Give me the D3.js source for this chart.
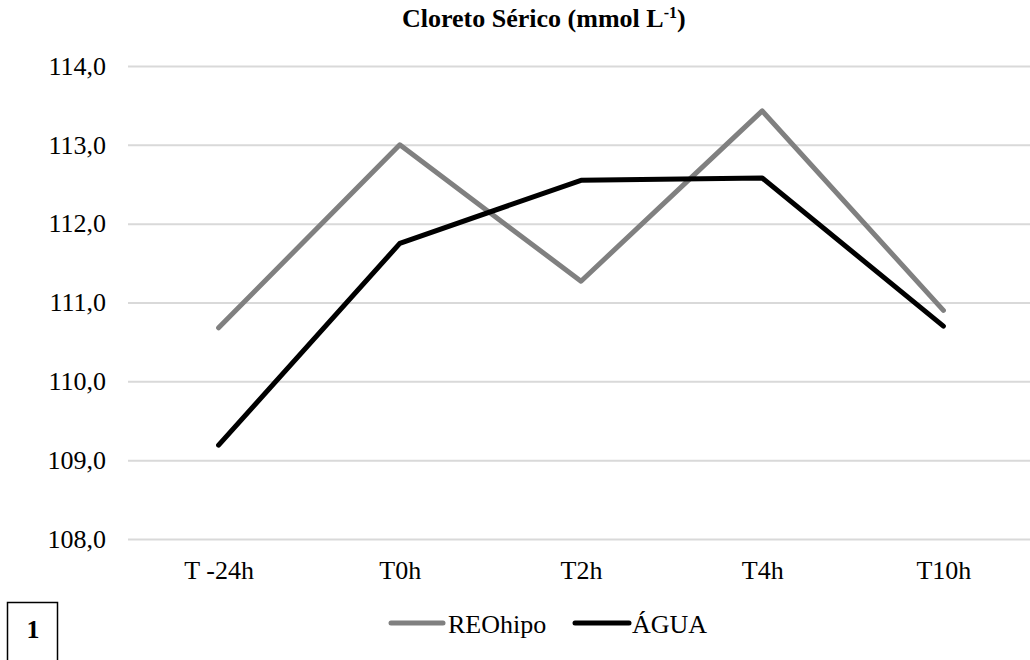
<!DOCTYPE html>
<html>
<head>
<meta charset="utf-8">
<script src="https://cdn.jsdelivr.net/npm/d3@7"></script>
</head>
<body style="margin:0">
<svg id="chart" width="1030" height="660" font-family="Times New Roman"></svg>
<script>
// Serum chloride over time, two treatment groups
const categories = ["T -24h", "T0h", "T2h", "T4h", "T10h"];
const reoHipo = [110.68, 113.0, 111.27, 113.43, 110.9];
const agua = [109.19, 111.75, 112.55, 112.58, 110.7];
const yTicks = [108, 109, 110, 111, 112, 113, 114];
const seriesNames = ["REOhipo", "ÁGUA"];

const FONT = "Times New Roman";

const series = [
  { name: seriesNames[0], values: reoHipo, color: "#808080" },
  { name: seriesNames[1], values: agua, color: "#000000" }
];

const svg = d3.select("#chart");
const plot = { left: 128, right: 1034, top: 66, bottom: 539 };

const x = d3.scalePoint().domain(categories).range([plot.left, plot.right]).padding(0.5);
const y = d3.scaleLinear().domain([108, 114]).range([plot.bottom, plot.top]);

const locale = d3.formatLocale({ decimal: ",", thousands: ".", grouping: [3], currency: ["", ""] });
const fmt = locale.format(".1f");

// Title
const title = svg.append("text")
  .attr("x", 402).attr("y", 27)
  .style("font-family", FONT)
  .style("font-size", "26px").style("font-weight", "bold").attr("fill", "#000");
title.append("tspan").text("Cloreto Sérico (mmol L");
title.append("tspan").style("font-size", "16px").attr("dy", -9).text("-1");
title.append("tspan").attr("dy", 9).text(")");

// Horizontal gridlines + y labels
const yAxis = svg.append("g")
  .attr("transform", `translate(${plot.left},0)`)
  .call(d3.axisLeft(y).tickValues(yTicks).tickFormat(fmt).tickSize(-(plot.right - plot.left)).tickPadding(22))
  .attr("font-family", null).attr("font-size", null);
yAxis.select(".domain").remove();
yAxis.selectAll(".tick line").attr("stroke", "#d9d9d9").attr("stroke-width", 2);
yAxis.selectAll(".tick text")
  .style("font-family", FONT).style("font-size", "26px").attr("fill", "#000");

// Category labels
const xAxis = svg.append("g")
  .attr("transform", `translate(0,${plot.bottom})`)
  .call(d3.axisBottom(x).tickSize(0).tickPadding(22))
  .attr("font-family", null).attr("font-size", null);
xAxis.select(".domain").remove();
xAxis.selectAll(".tick text")
  .style("font-family", FONT).style("font-size", "26px").attr("fill", "#000");

// Series lines
const line = d3.line()
  .x((d, i) => x(categories[i]))
  .y(d => y(d));

svg.selectAll(".series")
  .data(series)
  .join("path")
  .attr("class", "series")
  .attr("d", d => line(d.values))
  .attr("fill", "none")
  .attr("stroke", d => d.color)
  .attr("stroke-width", 5)
  .attr("stroke-linecap", "round")
  .attr("stroke-linejoin", "round");

// Legend
const legendItems = [
  { x1: 391, x2: 443, tx: 448 },
  { x1: 575, x2: 629, tx: 632 }
];
const legend = svg.append("g");
series.forEach((s, i) => {
  const li = legendItems[i];
  legend.append("line")
    .attr("x1", li.x1).attr("x2", li.x2).attr("y1", 623).attr("y2", 623)
    .attr("stroke", s.color).attr("stroke-width", 5).attr("stroke-linecap", "round");
  legend.append("text")
    .attr("x", li.tx).attr("y", 633)
    .style("font-family", FONT)
    .style("font-size", "26px").attr("fill", "#000")
    .text(s.name);
});

// Panel label
svg.append("rect")
  .attr("x", 7.5).attr("y", 602.5).attr("width", 50).attr("height", 70)
  .attr("fill", "#fff").attr("stroke", "#000").attr("stroke-width", 1.5);
svg.append("text")
  .attr("x", 33).attr("y", 638).attr("text-anchor", "middle")
  .style("font-family", FONT)
  .style("font-size", "26px").style("font-weight", "bold").attr("fill", "#000")
  .text("1");
</script>
</body>
</html>
